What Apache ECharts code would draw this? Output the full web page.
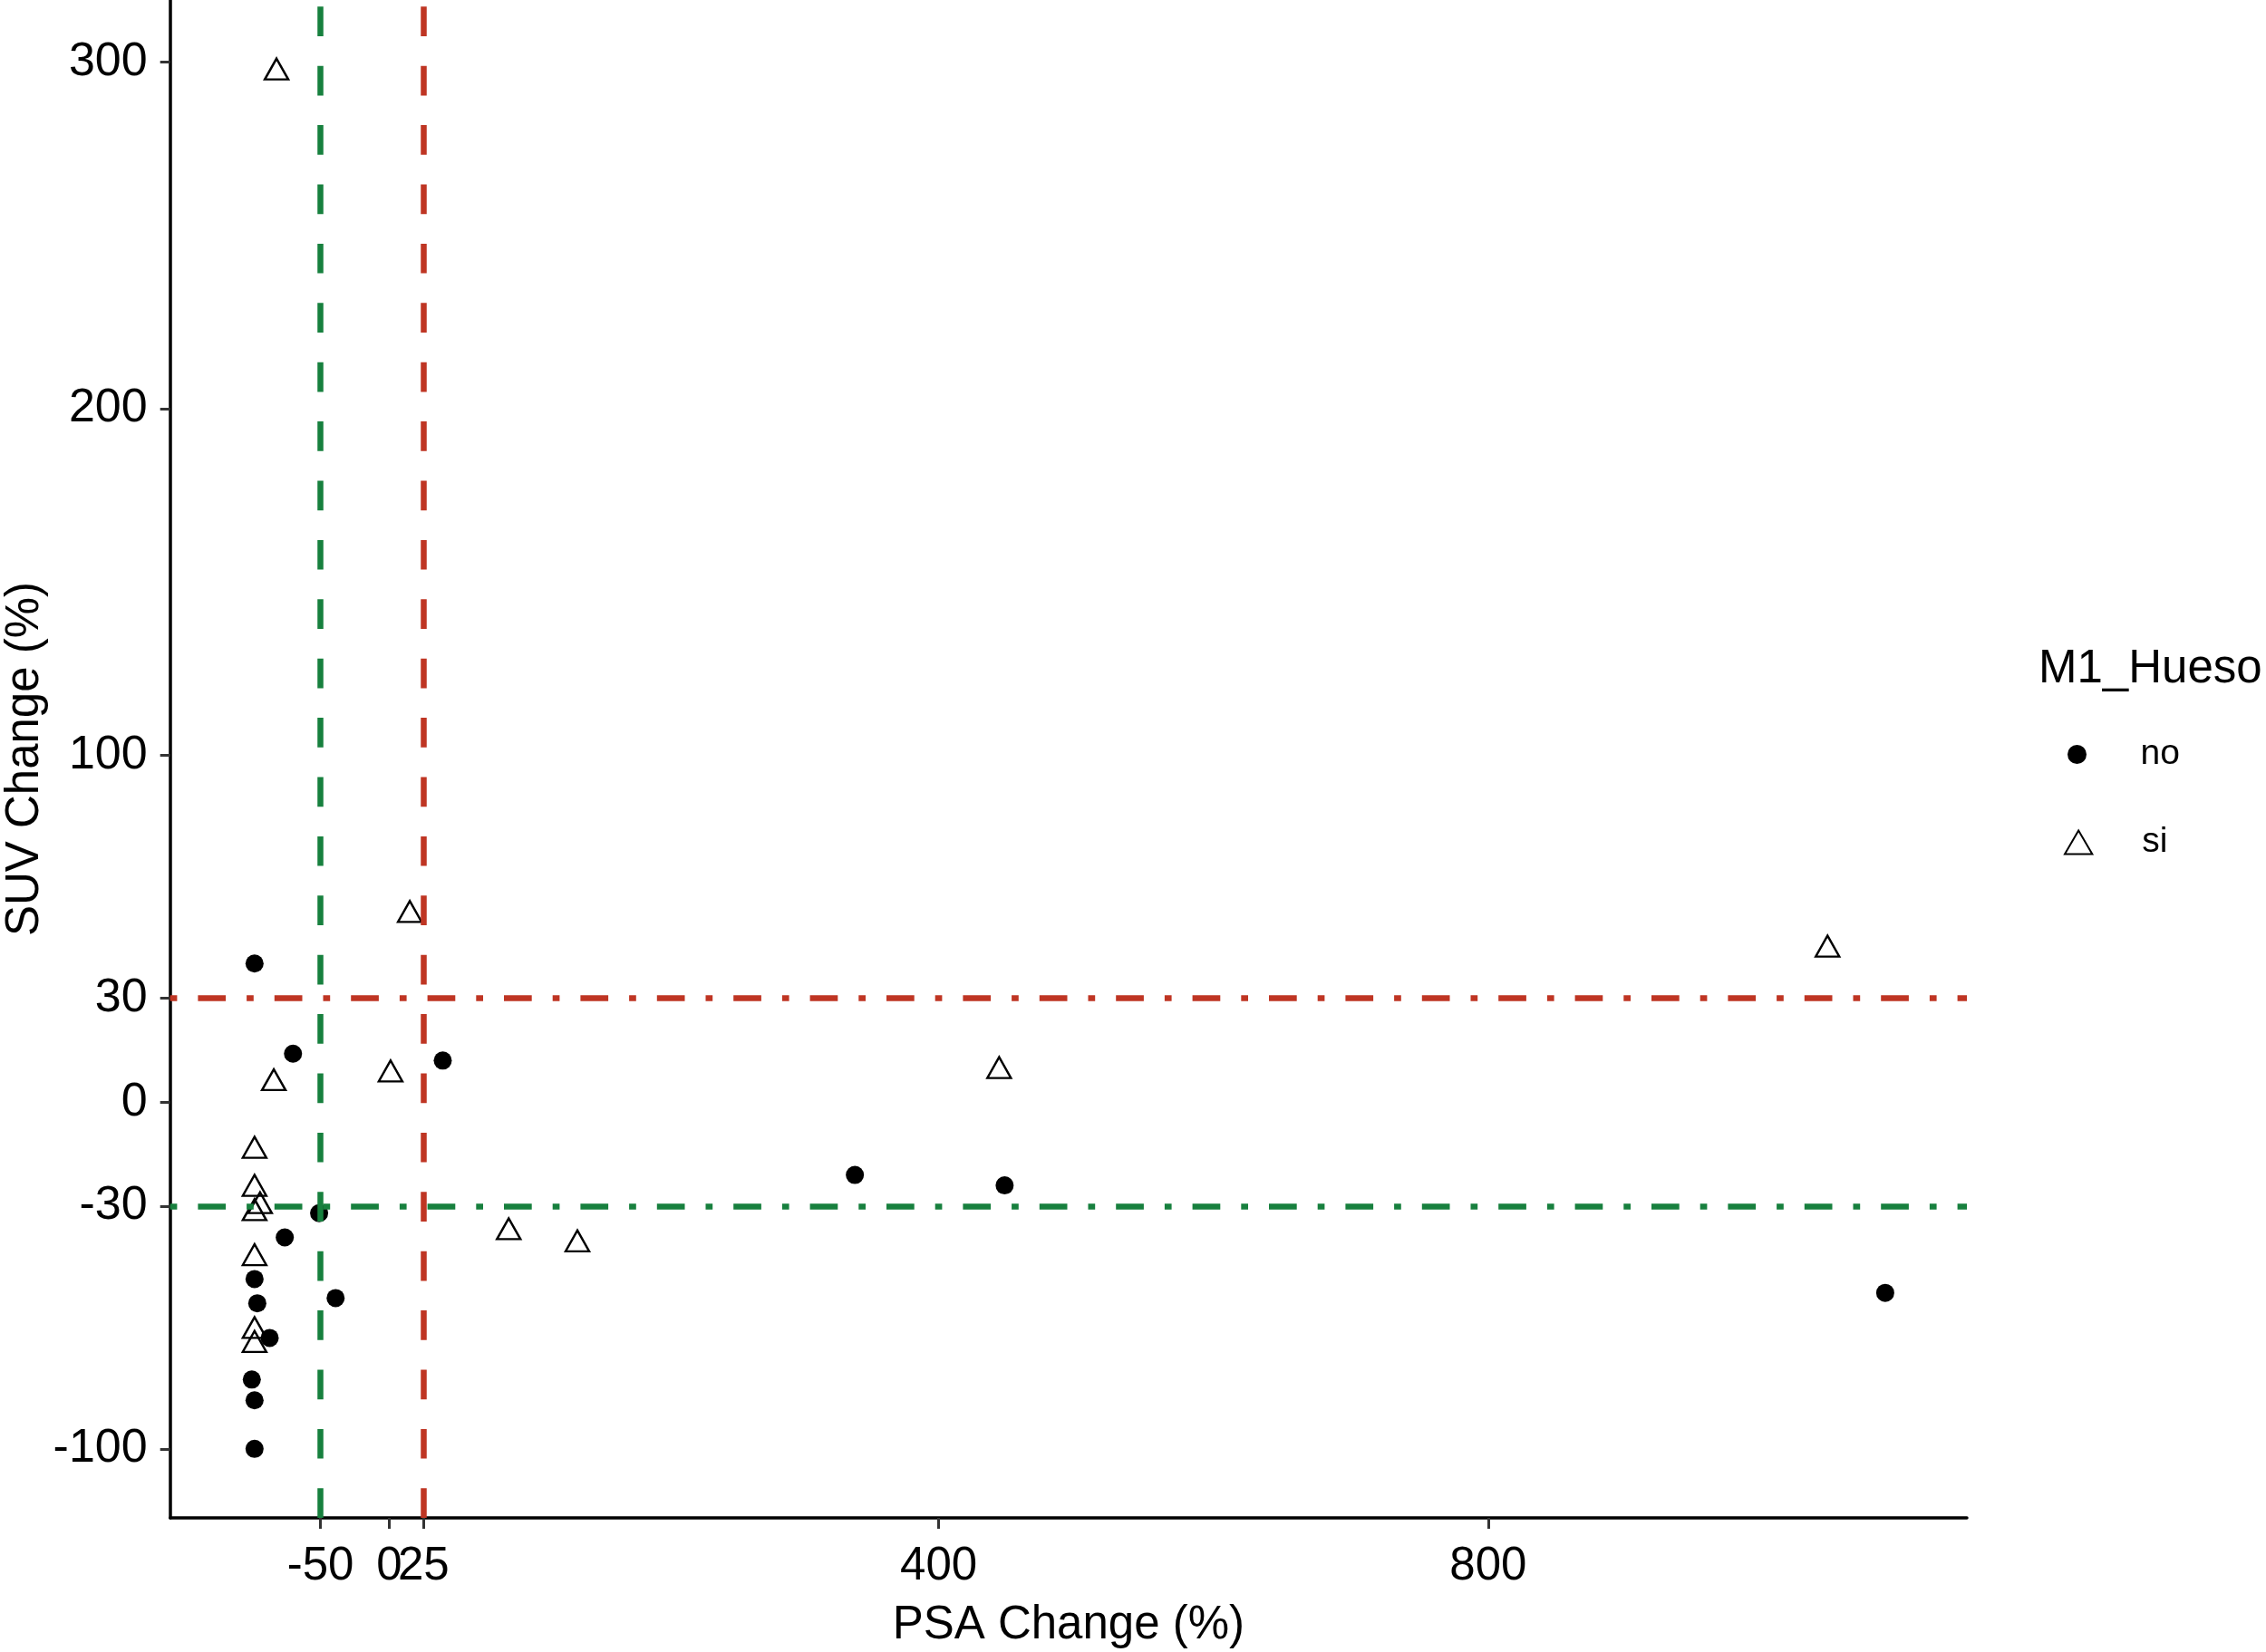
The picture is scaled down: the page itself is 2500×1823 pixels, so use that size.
<!DOCTYPE html>
<html><head><meta charset="utf-8">
<script src="https://cdn.jsdelivr.net/npm/echarts@6/dist/echarts.min.js"></script>
<style>html,body{margin:0;padding:0;background:#fff}#c{width:2500px;height:1823px}</style>
</head><body><div id="c"></div>
<script>
// M1_Hueso = "no" (filled dots)
const noX = [-98, -70, 39, 339, 448, -51, -76, -98, -39, -96, 1089, -87, -100, -98, -98];
const noY = [40, 14, 12, -21, -24, -32, -39, -51, -56.5, -58, -55, -68, -80, -86, -100];
// M1_Hueso = "si" (open triangles)
const siX = [-82, 15, 1047, -84, 1, 444, -98, -98, -94, -98, 87, 137, -98, -98, -98];
const siY = [298, 55, 45, 6.5, 9, 10, -13, -24, -29, -31, -36.5, -40, -44, -65, -69];
// axis tick labels
const xTicks = [-50, 0, 25, 400, 800];
const yTicks = [-100, -30, 0, 30, 100, 200, 300];
// reference lines
const vLineValues = [-50, 25];
const vLineColors = ['#17803E', '#BF3523'];
const hLineValues = [30, -30];
const hLineColors = ['#BF3523', '#17803E'];

const FONT = '"Liberation Sans", Arial, sans-serif';

function expand(arr) {
  const mn = Math.min(...arr), mx = Math.max(...arr), r = mx - mn;
  return [mn - 0.05 * r, mx + 0.05 * r];
}
const xr = expand(noX.concat(siX));
const yr = expand(noY.concat(siY));

const chart = echarts.init(document.getElementById('c'), null, {renderer: 'canvas'});
chart.setOption({
  animation: false,
  backgroundColor: '#fff',
  textStyle: {fontFamily: FONT},
  grid: {left: 187.7, right: 330, top: 0, bottom: 148, containLabel: false, outerBoundsMode: 'none'},
  title: {
    text: 'M1_Hueso', left: 2249, top: 713, padding: 0,
    textStyle: {fontSize: 51, fontWeight: 'normal', color: '#000', fontFamily: FONT}
  },
  legend: [
    {data: ['no'], left: 2281, top: 813, padding: 0, itemWidth: 130, itemHeight: 21, icon: 'circle',
     selectedMode: false, textStyle: {fontSize: 39, color: '#000', fontFamily: FONT}},
    {data: ['si'], left: 2277, top: 910, padding: 0, itemWidth: 130, itemHeight: 26, icon: 'path://M14,0L28,24L0,24Z',
     selectedMode: false, textStyle: {fontSize: 39, color: '#000', fontFamily: FONT}}
  ],
  xAxis: {
    type: 'value', min: xr[0], max: xr[1],
    axisLine: {show: true, onZero: false, lineStyle: {color: '#000', width: 3.5}},
    axisTick: {show: true, customValues: xTicks, length: 12, lineStyle: {color: '#333', width: 3}},
    axisLabel: {customValues: xTicks, fontSize: 51, color: '#000', margin: 28, hideOverlap: false, fontFamily: FONT},
    splitLine: {show: false},
    name: 'PSA Change (%)', nameLocation: 'middle', nameGap: 93, nameMoveOverlap: false,
    nameTextStyle: {fontSize: 51, color: '#000', fontFamily: FONT}
  },
  yAxis: {
    type: 'value', min: yr[0], max: yr[1],
    axisLine: {show: true, onZero: false, lineStyle: {color: '#000', width: 3.5}},
    axisTick: {show: true, customValues: yTicks, length: 11, lineStyle: {color: '#333', width: 3}},
    axisLabel: {customValues: yTicks, fontSize: 52, color: '#000', margin: 25, hideOverlap: false, fontFamily: FONT},
    splitLine: {show: false},
    name: 'SUV Change (%)', nameLocation: 'middle', nameGap: 134, nameMoveOverlap: false,
    nameTextStyle: {fontSize: 51, color: '#000', fontFamily: FONT}
  },
  series: [
    {
      name: 'no', type: 'scatter', z: 2, silent: true,
      data: noX.map((x, i) => [x, noY[i]]),
      symbol: 'circle', symbolSize: 20,
      itemStyle: {color: '#000', opacity: 1},
      markLine: {
        silent: true, symbol: ['none', 'none'], label: {show: false}, z: 5, animation: false,
        data: hLineValues.map((v, i) => ({yAxis: v, lineStyle: {color: hLineColors[i], width: 6.5, opacity: 1, type: [7.7, 23, 30.7, 23]}}))
      }
    },
    {
      name: 'si', type: 'scatter', z: 2, silent: true,
      data: siX.map((x, i) => [x, siY[i]]),
      symbol: 'triangle', symbolSize: [26, 23],
      itemStyle: {color: 'rgba(0,0,0,0)', borderColor: '#000', borderWidth: 2.4, opacity: 1},
      markLine: {
        silent: true, symbol: ['none', 'none'], label: {show: false}, z: 6, animation: false,
        data: vLineValues.map((v, i) => ({xAxis: v, lineStyle: {color: vLineColors[i], width: 6.5, opacity: 1, type: [32.7, 32.7]}}))
      }
    }
  ]
});
</script></body></html>
